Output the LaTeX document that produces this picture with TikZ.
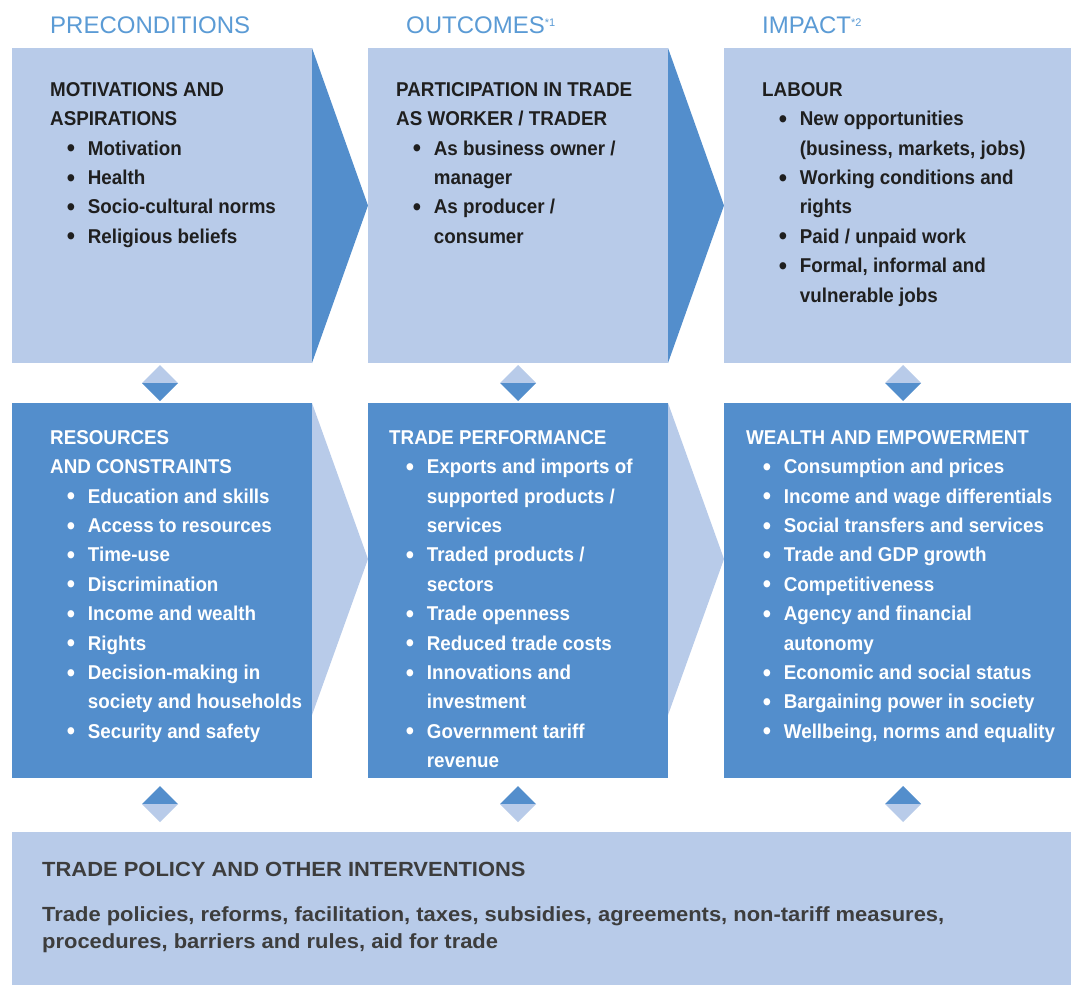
\documentclass[tikz,border=0pt]{standalone}
\usepackage{fontspec}
\setmainfont{Liberation Sans}
\newfontfamily\condfont{Liberation Sans}[FakeStretch=0.94]
\newfontfamily\widefont{Liberation Sans}[FakeStretch=1.07]
\definecolor{lightbox}{HTML}{B8CBE9}
\definecolor{darkbox}{HTML}{538ECC}
\definecolor{headblue}{HTML}{5B9BD5}
\definecolor{textdark}{HTML}{1F1F1F}
\definecolor{bottomtext}{HTML}{3D3D3D}
\newcommand\bul{\hspace*{16.6pt}\makebox[21.1pt][l]{\raisebox{-1.6pt}{\fontsize{25}{0}\selectfont\textbullet}}}
\newcommand\cnt{\hspace*{37.7pt}}
\newcommand\hsup[1]{\raisebox{7.5pt}{\fontsize{11}{12}\selectfont #1}}
\tikzset{
  header/.style={anchor=base west, inner sep=0pt, font=\fontsize{24}{28}\selectfont, text=headblue},
  boxtext/.style={anchor=north west, inner sep=0pt, align=left, font=\condfont\bfseries\fontsize{20}{29.4}\selectfont},
  lighttext/.style={boxtext, text=textdark},
  whitetext/.style={boxtext, text=white},
  policytext/.style={inner sep=0pt, align=left, font=\widefont\bfseries\fontsize{20.5}{27}\selectfont, text=bottomtext}
}
\begin{document}
\begin{tikzpicture}[x=1pt,y=-1pt]
\useasboundingbox (0,0) rectangle (1071,985);
\fill[white] (0,0) rectangle (1071,985);

% headers
\node[header] (h1) at (50,33.5) {PRECONDITIONS};
\node[header] (h2) at (406,33.5) {OUTCOMES\hsup{*1}};
\node[header] (h3) at (762,33.5) {IMPACT\hsup{*2}};

% top row boxes
\fill[lightbox] (12,48) rectangle (312,363);
\fill[darkbox] (312,48) -- (368,205.5) -- (312,363) -- cycle;
\fill[lightbox] (368,48) rectangle (668,363);
\fill[darkbox] (668,48) -- (724,205.5) -- (668,363) -- cycle;
\fill[lightbox] (724,48) rectangle (1071,363);

% bottom row boxes
\fill[darkbox] (12,403) rectangle (312,778);
\fill[lightbox] (312,403) -- (368,559) -- (312,715) -- cycle;
\fill[darkbox] (368,403) rectangle (668,778);
\fill[lightbox] (668,403) -- (724,559) -- (668,715) -- cycle;
\fill[darkbox] (724,403) rectangle (1071,778);

% policy box
\fill[lightbox] (12,832) rectangle (1071,985);

% diamonds between rows
\foreach \cx in {160,518,903}{
  \fill[lightbox] (\cx-18,383) -- (\cx,365) -- (\cx+18,383) -- cycle;
  \fill[darkbox] (\cx-18,383) -- (\cx,401) -- (\cx+18,383) -- cycle;
  \fill[darkbox] (\cx-18,804) -- (\cx,786) -- (\cx+18,804) -- cycle;
  \fill[lightbox] (\cx-18,804) -- (\cx,822) -- (\cx+18,804) -- cycle;
}

% top row texts
\node[lighttext] (t1) at (50,82.2) {MOTIVATIONS AND\\ASPIRATIONS\\
\bul Motivation\\\bul Health\\\bul Socio-cultural norms\\\bul Religious beliefs};
\node[lighttext] (t2) at (396,82.2) {PARTICIPATION IN TRADE\\AS WORKER / TRADER\\
\bul As business owner /\\\cnt manager\\\bul As producer /\\\cnt consumer};
\node[lighttext] (t3) at (762,82.2) {LABOUR\\
\bul New opportunities\\\cnt (business, markets, jobs)\\\bul Working conditions and\\\cnt rights\\\bul Paid / unpaid work\\\bul Formal, informal and\\\cnt vulnerable jobs};

% bottom row texts
\node[whitetext] (b1) at (50,430.2) {RESOURCES\\AND CONSTRAINTS\\
\bul Education and skills\\\bul Access to resources\\\bul Time-use\\\bul Discrimination\\\bul Income and wealth\\\bul Rights\\\bul Decision-making in\\\cnt society and households\\\bul Security and safety};
\node[whitetext] (b2) at (389,430.2) {TRADE PERFORMANCE\\
\bul Exports and imports of\\\cnt supported products /\\\cnt services\\\bul Traded products /\\\cnt sectors\\\bul Trade openness\\\bul Reduced trade costs\\\bul Innovations and\\\cnt investment\\\bul Government tariff\\\cnt revenue};
\node[whitetext] (b3) at (746,430.2) {WEALTH AND EMPOWERMENT\\
\bul Consumption and prices\\\bul Income and wage differentials\\\bul Social transfers and services\\\bul Trade and GDP growth\\\bul Competitiveness\\\bul Agency and financial\\\cnt autonomy\\\bul Economic and social status\\\bul Bargaining power in society\\\bul Wellbeing, norms and equality};

% policy texts
\node[policytext, anchor=base west] (p1) at (42,876) {TRADE POLICY AND OTHER INTERVENTIONS};
\node[policytext, anchor=north west] (p2) at (42,906) {Trade policies, reforms, facilitation, taxes, subsidies, agreements, non-tariff measures,\\procedures, barriers and rules, aid for trade};
\end{tikzpicture}
\end{document}
